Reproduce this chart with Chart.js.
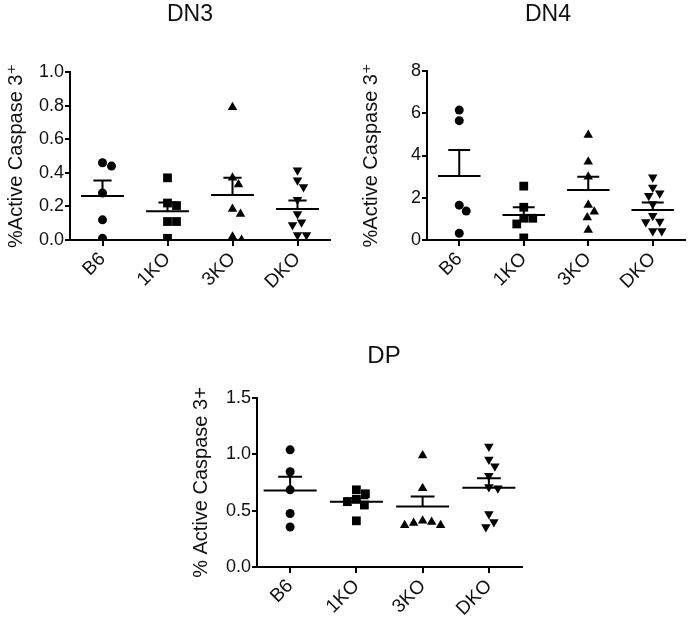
<!DOCTYPE html>
<html>
<head>
<meta charset="utf-8">
<script src="https://cdn.jsdelivr.net/npm/chart.js@4.4.1/dist/chart.umd.min.js"></script>
<style>
  body { margin: 0; background: #fff; width: 692px; height: 624px; position: relative; overflow: hidden; }
  canvas { position: absolute; }
</style>
</head>
<body>
<canvas id="dn3" style="left:0px;top:0px"></canvas>
<canvas id="dn4" style="left:350px;top:0px"></canvas>
<canvas id="dp" style="left:170px;top:330px"></canvas>
<script>
// ---- data ----
const categories = ['B6', '1KO', '3KO', 'DKO'];

const dn3B6  = [0.46, 0.44, 0.28, 0.12, 0.01];
const dn3KO1 = [0.37, 0.22, 0.205, 0.11, 0.11, 0.01];
const dn3KO3 = [0.79, 0.37, 0.33, 0.185, 0.155, 0.02, 0.0];
const dn3DKO = [0.415, 0.355, 0.315, 0.24, 0.155, 0.105, 0.09, 0.03, 0.03];
const dn3Mean = [0.262, 0.171, 0.268, 0.185];
const dn3Sem  = [0.092, 0.052, 0.102, 0.05];
const dn3Ticks = [0, 0.2, 0.4, 0.6, 0.8, 1.0];

const dn4B6  = [6.15, 5.65, 1.65, 1.37, 0.32];
const dn4KO1 = [2.55, 1.55, 1.03, 1.03, 0.76, 0.1];
const dn4KO3 = [4.97, 3.71, 3.0, 1.66, 1.34, 1.07, 0.47];
const dn4DKO = [2.97, 2.49, 2.21, 2.1, 1.7, 1.15, 0.87, 0.85, 0.43, 0.43];
const dn4Mean = [3.03, 1.18, 2.37, 1.42];
const dn4Sem  = [1.23, 0.37, 0.63, 0.35];
const dn4Ticks = [0, 2, 4, 6, 8];

const dpB6  = [1.04, 0.845, 0.685, 0.475, 0.355];
const dpKO1 = [0.685, 0.65, 0.6, 0.58, 0.55, 0.41];
const dpKO3 = [0.99, 0.70, 0.41, 0.40, 0.39, 0.37, 0.37];
const dpDKO = [1.07, 0.955, 0.895, 0.81, 0.71, 0.70, 0.47, 0.40, 0.355];
const dpMean = [0.678, 0.58, 0.536, 0.704];
const dpSem  = [0.122, 0.03, 0.09, 0.083];
const dpTicks = [0, 0.5, 1.0, 1.5];

// ---- styling ----
const FONT = '"Liberation Sans", Arial, "DejaVu Sans", sans-serif';
const INK = '#111';
const MIN_GAP = 9; // px between marker centres in the swarm

const markerStyles = [
  { pointStyle: 'circle',   radius: 4.5, rotation: 0 },
  { pointStyle: 'rect',     radius: 6.2, rotation: 0 },
  { pointStyle: 'triangle', radius: 5.5, rotation: 0 },
  { pointStyle: 'triangle', radius: 5.5, rotation: 180 }
];

// simple beeswarm so that close values sit side by side
function swarm(values, cat, yPx, xPx) {
  const taken = [];
  const order = values.map((v, i) => i).sort((a, b) => values[b] - values[a]);
  const pts = [];
  order.forEach(i => {
    const py = values[i] * yPx;
    let off = 0;
    for (let k = 0; k < 80; k++) {
      const c = k % 2 ? Math.ceil(k / 2) : -Math.ceil(k / 2);
      if (taken.every(t => Math.hypot(t.x - c, t.y - py) >= MIN_GAP)) { off = c; break; }
    }
    taken.push({ x: off, y: py });
    pts.push({ x: cat + off / xPx, y: values[i] });
  });
  return pts;
}

const meanSemPlugin = {
  id: 'meanSem',
  afterDatasetsDraw(chart, args, opts) {
    const xs = chart.scales.x, ys = chart.scales.y, ctx = chart.ctx;
    const unit = xs.getPixelForValue(2) - xs.getPixelForValue(1);
    ctx.save();
    ctx.strokeStyle = '#000';
    ctx.lineWidth = 2;
    opts.means.forEach((m, i) => {
      const cx = xs.getPixelForValue(i + 1);
      const my = ys.getPixelForValue(m);
      const ty = ys.getPixelForValue(m + opts.sems[i]);
      ctx.beginPath();
      ctx.moveTo(cx - opts.half * unit, my);
      ctx.lineTo(cx + opts.half * unit, my);
      ctx.moveTo(cx, my);
      ctx.lineTo(cx, ty);
      ctx.moveTo(cx - opts.cap * unit, ty);
      ctx.lineTo(cx + opts.cap * unit, ty);
      ctx.stroke();
    });
    ctx.restore();
  }
};

const panelTitlePlugin = {
  id: 'panelTitle',
  afterDraw(chart, args, opts) {
    const ctx = chart.ctx;
    ctx.save();
    ctx.fillStyle = INK;
    ctx.font = opts.size + 'px ' + FONT;
    ctx.textAlign = 'center';
    ctx.textBaseline = 'alphabetic';
    ctx.fillText(opts.text, opts.x, opts.y);
    ctx.restore();
  }
};

function makePanel(id, p) {
  const canvas = document.getElementById(id);
  canvas.width = p.w;
  canvas.height = p.h;
  canvas.style.width = p.w + 'px';
  canvas.style.height = p.h + 'px';

  const yMax = p.ticks[p.ticks.length - 1];
  const yPx = p.plotH / yMax;
  const datasets = p.groups.map((vals, i) => ({
    label: categories[i],
    data: swarm(vals, i + 1, yPx, p.catPx),
    pointStyle: markerStyles[i].pointStyle,
    pointRadius: markerStyles[i].radius,
    rotation: markerStyles[i].rotation,
    backgroundColor: '#000',
    borderColor: '#000',
    borderWidth: 0
  }));

  return new Chart(canvas.getContext('2d'), {
    type: 'scatter',
    data: { datasets },
    plugins: [meanSemPlugin, panelTitlePlugin],
    options: {
      responsive: false,
      animation: false,
      events: [],
      layout: { padding: { top: p.padTop, right: p.padRight, left: 0, bottom: 0 } },
      scales: {
        x: {
          type: 'linear',
          min: 0.5,
          max: 4.5,
          afterBuildTicks: s => { s.ticks = categories.map((c, i) => ({ value: i + 1 })); },
          afterFit: s => { s.height = p.xH; },
          ticks: {
            autoSkip: false,
            minRotation: 45,
            maxRotation: 45,
            padding: 2,
            color: INK,
            font: { family: FONT, size: 19 },
            callback: v => categories[Math.round(v) - 1]
          },
          grid: { display: true, drawOnChartArea: false, drawTicks: true, tickLength: 6, color: '#000', lineWidth: 2 },
          border: { display: true, color: '#000', width: 2 }
        },
        y: {
          type: 'linear',
          min: 0,
          max: yMax,
          afterBuildTicks: s => { s.ticks = p.ticks.map(v => ({ value: v })); },
          afterFit: s => { s.width = p.yW; },
          ticks: {
            padding: 1,
            color: INK,
            font: { family: FONT, size: 18 },
            callback: v => v.toFixed(p.decimals)
          },
          grid: { display: true, drawOnChartArea: false, drawTicks: true, tickLength: 5, color: '#000', lineWidth: 2 },
          border: { display: true, color: '#000', width: 2 },
          title: {
            display: true,
            text: p.yTitle,
            color: INK,
            font: { family: FONT, size: 20 },
            padding: { top: p.titlePad, bottom: 0 }
          }
        }
      },
      plugins: {
        legend: { display: false },
        tooltip: { enabled: false },
        meanSem: { means: p.means, sems: p.sems, half: p.half, cap: p.cap },
        panelTitle: { text: p.title, x: p.titleX, y: p.titleY, size: p.titleSize }
      }
    }
  });
}

makePanel('dn3', {
  w: 345, h: 310, padTop: 72, padRight: 15, yW: 70, xH: 70, plotH: 168, catPx: 65,
  groups: [dn3B6, dn3KO1, dn3KO3, dn3DKO], means: dn3Mean, sems: dn3Sem,
  ticks: dn3Ticks, decimals: 1, half: 0.33, cap: 0.14, titlePad: 4,
  yTitle: '%Active Caspase 3\u207A',
  title: 'DN3', titleX: 190, titleY: 21, titleSize: 23
});

makePanel('dn4', {
  w: 342, h: 310, padTop: 71, padRight: 7, yW: 77, xH: 70, plotH: 169, catPx: 64.5,
  groups: [dn4B6, dn4KO1, dn4KO3, dn4DKO], means: dn4Mean, sems: dn4Sem,
  ticks: dn4Ticks, decimals: 0, half: 0.33, cap: 0.17, titlePad: 9,
  yTitle: '%Active Caspase 3\u207A',
  title: 'DN4', titleX: 198, titleY: 21, titleSize: 23
});

makePanel('dp', {
  w: 370, h: 294, padTop: 68, padRight: 18, yW: 87, xH: 57, plotH: 169, catPx: 66.25,
  groups: [dpB6, dpKO1, dpKO3, dpDKO], means: dpMean, sems: dpSem,
  ticks: dpTicks, decimals: 1, half: 0.40, cap: 0.18, titlePad: 19,
  yTitle: '% Active Caspase 3+',
  title: 'DP', titleX: 214, titleY: 33, titleSize: 24
});
</script>
</body>
</html>
